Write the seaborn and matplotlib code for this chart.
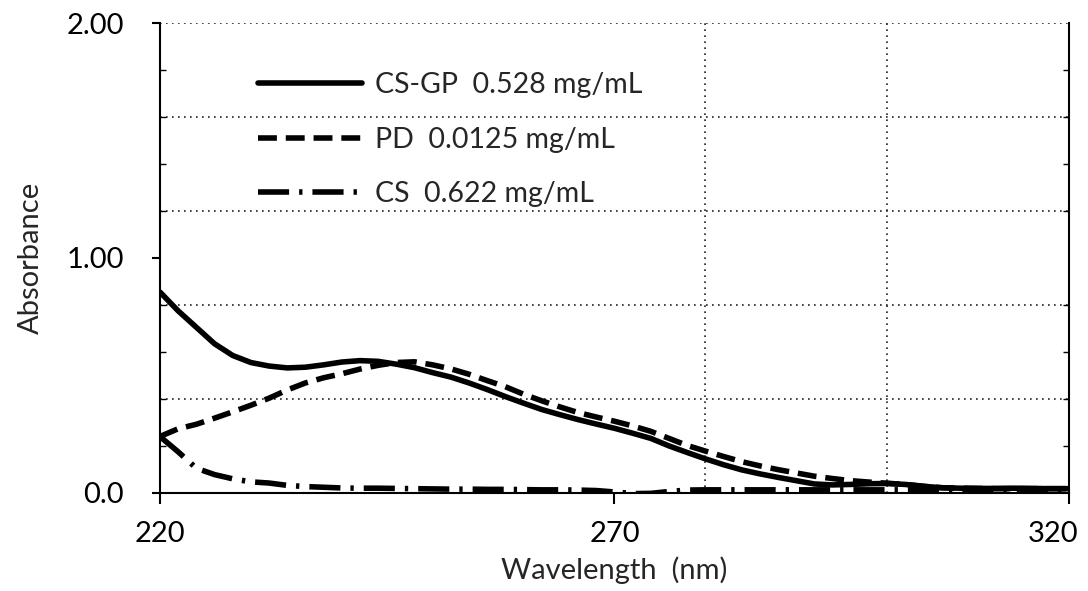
import matplotlib
matplotlib.use("Agg")
import matplotlib.pyplot as plt
import numpy as np
import pandas as pd
import seaborn as sns
from matplotlib.ticker import MultipleLocator
from matplotlib.transforms import ScaledTranslation

# ---------------- data ----------------
wavelength = list(range(220, 321, 2))

cs_gp = [0.855, 0.775, 0.705, 0.635, 0.585, 0.555, 0.540, 0.532, 0.535, 0.545,
         0.557, 0.563, 0.560, 0.548, 0.533, 0.512, 0.493, 0.468, 0.440, 0.410,
         0.382, 0.355, 0.333, 0.312, 0.293, 0.275, 0.254, 0.232, 0.200, 0.172,
         0.145, 0.120, 0.098, 0.081, 0.066, 0.052, 0.038, 0.034, 0.036, 0.039,
         0.040, 0.036, 0.028, 0.022, 0.020, 0.019, 0.019, 0.020, 0.019, 0.018,
         0.018]

pd_vals = [0.240, 0.273, 0.292, 0.318, 0.345, 0.373, 0.403, 0.438, 0.468, 0.490,
           0.507, 0.527, 0.543, 0.555, 0.558, 0.545, 0.528, 0.505, 0.478, 0.452,
           0.420, 0.392, 0.366, 0.342, 0.323, 0.305, 0.285, 0.262, 0.232, 0.202,
           0.178, 0.155, 0.133, 0.115, 0.099, 0.085, 0.071, 0.061, 0.052, 0.046,
           0.041, 0.036, 0.028, 0.022, 0.020, 0.019, 0.018, 0.018, 0.018, 0.018,
           0.018]

cs_vals = [0.240, 0.175, 0.105, 0.078, 0.060, 0.047, 0.042, 0.032, 0.027, 0.024,
           0.021, 0.020, 0.020, 0.019, 0.018, 0.017, 0.016, 0.016, 0.015, 0.015,
           0.014, 0.013, 0.013, 0.012, 0.010, 0.004, -0.003, -0.002, 0.006, 0.012,
           0.013, 0.013, 0.013, 0.013, 0.013, 0.013, 0.013, 0.013, 0.013, 0.013,
           0.013, 0.013, 0.013, 0.013, 0.013, 0.013, 0.013, 0.013, 0.013, 0.013,
           0.013]

series_labels = ["CS-GP  0.528 mg/mL", "PD  0.0125 mg/mL", "CS  0.622 mg/mL"]

x_ticks = [220, 270, 320]
x_tick_labels = ["220", "270", "320"]
y_ticks = [0.0, 1.0, 2.0]
y_tick_labels = ["0.0", "1.00", "2.00"]
grid_y = [0.4, 0.8, 1.2, 1.6, 2.0]
grid_x = [280, 300]

# ---------------- styling ----------------
sns.set_style("ticks")
plt.rcParams["font.family"] = ["Lato", "DejaVu Sans"]

fig = plt.figure(figsize=(10.88, 5.91), dpi=100)
ax = fig.add_axes([0.147, 0.166, 0.8355, 0.795])

line_styles = ["-", (0, (3.4, 1.6)), (0, (5.6, 1.8, 0.6, 1.8))]
series_values = [cs_gp, pd_vals, cs_vals]

# dotted grid
ax.hlines(grid_y, 220, 320, colors="#222222", linestyles=(0, (1, 2.6)),
          linewidth=1.2, zorder=0.5)
ax.vlines(grid_x, 0, 2, colors="#222222", linestyles=(0, (1, 2.6)),
          linewidth=1.2, zorder=0.5)

for lab, vals, ls in zip(series_labels, series_values, line_styles):
    df = pd.DataFrame({"Wavelength": wavelength, "Absorbance": vals})
    sns.lineplot(data=df, x="Wavelength", y="Absorbance", ax=ax, color="black",
                 linewidth=4.0, linestyle=ls, label=lab, zorder=3)

ax.set_xlim(220, 320)
ax.set_ylim(0, 2)

ax.set_xticks(x_ticks)
ax.set_xticklabels(x_tick_labels)
ax.set_yticks(y_ticks)
ax.set_yticklabels(y_tick_labels)
ax.yaxis.set_minor_locator(MultipleLocator(0.2))

ax.tick_params(axis="x", which="major", direction="out", length=8, width=1.5,
               pad=12, labelsize=21, colors="black")
ax.tick_params(axis="y", which="major", direction="out", length=6, width=1.5,
               pad=20, labelsize=21, colors="black")
ax.tick_params(axis="y", which="minor", left=True, right=True, direction="in",
               length=4, width=1.0, colors="black")

# last x label sits against the right edge, as in the reference
last = ax.get_xticklabels()[-1]
last.set_transform(last.get_transform() + ScaledTranslation(-0.16, 0, fig.dpi_scale_trans))

ax.set_xlabel("Wavelength  (nm)", fontsize=21, labelpad=7)
ax.set_ylabel("Absorbance", fontsize=21, labelpad=16)

for side in ["left", "bottom", "right"]:
    ax.spines[side].set_visible(True)
    ax.spines[side].set_color("black")
    ax.spines[side].set_linewidth(1.5)
ax.spines["top"].set_visible(False)

leg = ax.legend(loc="upper left", bbox_to_anchor=(0.108, 0.895), frameon=False,
                fontsize=20.5, handlelength=3.65, handletextpad=0.45,
                labelspacing=1.0, borderpad=0, borderaxespad=0)

fig.savefig("out.png", dpi=100)
